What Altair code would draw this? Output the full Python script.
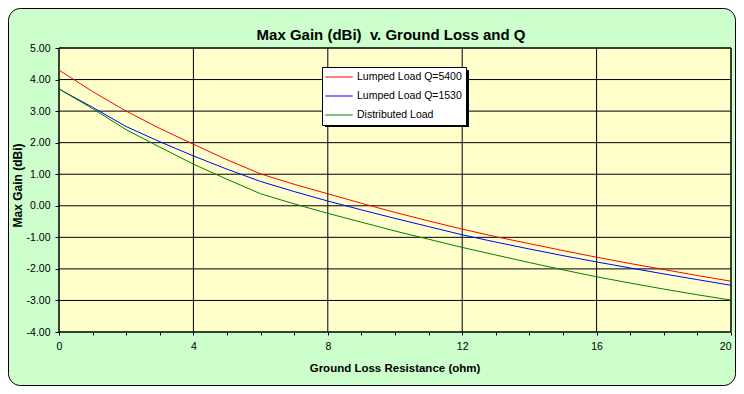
import altair as alt
import pandas as pd

# ---- data ----
ground_loss = list(range(0, 21))
q5400 = [4.30, 3.62, 3.00, 2.45, 1.95, 1.46, 1.01, 0.68, 0.38, 0.08, -0.21,
         -0.48, -0.74, -0.98, -1.20, -1.42, -1.63, -1.83, -2.02, -2.21, -2.39]
q1530 = [3.70, 3.12, 2.51, 2.03, 1.58, 1.16, 0.77, 0.45, 0.15, -0.13, -0.40,
         -0.66, -0.92, -1.15, -1.37, -1.58, -1.78, -1.97, -2.16, -2.34, -2.52]
distributed = [3.70, 3.08, 2.41, 1.86, 1.32, 0.84, 0.38, 0.06, -0.24, -0.52, -0.80,
               -1.06, -1.32, -1.56, -1.80, -2.03, -2.25, -2.45, -2.64, -2.82, -2.99]
series_names = ["Lumped Load Q=5400", "Lumped Load Q=1530", "Distributed Load"]
series_colors = ["#FF0000", "#0000FF", "#008000"]
y_ticks = [-4, -3, -2, -1, 0, 1, 2, 3, 4, 5]
x_grid = [0, 4, 8, 12, 16, 20]
x_ticks = list(range(0, 21))

rows = []
for name, vals in zip(series_names, [q5400, q1530, distributed]):
    for x, v in zip(ground_loss, vals):
        rows.append({"x": x, "gain": v, "series": name})
df = pd.DataFrame(rows)

W, H = 672, 284
PAD = {"left": 51, "top": 40, "right": 5, "bottom": 54}
FONT = "Liberation Sans"

xscale = alt.Scale(domain=[0, 20], nice=False, zero=False)
yscale = alt.Scale(domain=[-4, 5], nice=False, zero=False)

x_axis = alt.Axis(values=x_ticks, grid=False, domain=False, tickSize=3, tickColor="black",
                  labelExpr="datum.value % 4 == 0 ? format(datum.value, 'd') : ''",
                  labelAlign={"condition": {"test": "datum.value == 20", "value": "right"},
                              "value": "center"},
                  labelOverlap=False, labelFlush=False, labelPadding=6, labelFontSize=10.5,
                  labelColor="black", titleFontSize=11.5, titleFontWeight="bold",
                  titleColor="black", titleX=335.5, titleY=36, titleBaseline="middle",
                  zindex=1)
y_axis = alt.Axis(values=y_ticks, grid=False, domain=False, tickSize=4, tickColor="black",
                  labelExpr="(datum.value < 0 ? '-' : '') + format(abs(datum.value), '.2f')",
                  labelOverlap=False, labelFlush=False, labelPadding=5, labelFontSize=10.5,
                  labelColor="black", titleFontSize=12, titleFontWeight="bold",
                  titleColor="black", titleX=-42, titleY=137, titleBaseline="middle",
                  titleAlign="center", titleAngle=-90, zindex=1)

one = pd.DataFrame({"a": [0]})

frame = alt.Chart(one).mark_rect(
    fill="#CCFFCC", stroke="black", strokeWidth=1, cornerRadius=12
).encode(x=alt.value(-PAD["left"] + 0.5), x2=alt.value(W + PAD["right"] - 0.5),
         y=alt.value(-PAD["top"] + 0.5), y2=alt.value(H + PAD["bottom"] - 0.5))

plotbg = alt.Chart(one).mark_rect(
    fill="#FFFFCC", stroke="black", strokeWidth=1
).encode(x=alt.value(0), x2=alt.value(W), y=alt.value(0), y2=alt.value(H))

hgrid = alt.Chart(pd.DataFrame({"gain": y_ticks})).mark_rule(color="black", strokeWidth=1).encode(
    y=alt.Y("gain:Q", scale=yscale, title="Max Gain (dBi)", axis=y_axis)
)
vgrid = alt.Chart(pd.DataFrame({"x": x_grid})).mark_rule(color="black", strokeWidth=1).encode(
    x=alt.X("x:Q", scale=xscale, title="Ground Loss Resistance (ohm)", axis=x_axis)
)

shadow = alt.Chart(one).mark_rect(fill="black").encode(
    x=alt.value(266), x2=alt.value(410), y=alt.value(22), y2=alt.value(79)
)

lines = alt.Chart(df).mark_line(strokeWidth=1, interpolate="linear").encode(
    x=alt.X("x:Q", scale=xscale, title="Ground Loss Resistance (ohm)", axis=x_axis),
    y=alt.Y("gain:Q", scale=yscale, title="Max Gain (dBi)", axis=y_axis),
    color=alt.Color("series:N", scale=alt.Scale(domain=series_names, range=series_colors),
                    sort=series_names,
                    legend=alt.Legend(title=None, orient="none", legendX=263, legendY=19,
                                      direction="vertical",
                                      fillColor="white", strokeColor="black", padding=4,
                                      symbolType="M-2.5,0H2.5", symbolSize=121,
                                      symbolStrokeWidth=1, symbolOffset=7, labelOffset=12,
                                      rowPadding=7, labelFontSize=10.5, labelColor="black",
                                      labelFont=FONT)),
)

chart = alt.layer(frame, plotbg, hgrid, vgrid, lines, shadow).properties(
    width=W, height=H,
    title=alt.TitleParams("Max Gain (dBi)\u00a0 v. Ground Loss and Q", fontSize=15,
                          fontWeight="bold", font=FONT, color="black", anchor="middle",
                          offset=0, dx=-4, dy=35),
    padding=PAD,
    autosize=alt.AutoSizeParams(type="none"),
    background="white",
).configure(font=FONT).configure_view(stroke=None).configure_axis(labelFont=FONT, titleFont=FONT)

chart.save("out.html", embed_options={"renderer": "svg", "actions": False})
